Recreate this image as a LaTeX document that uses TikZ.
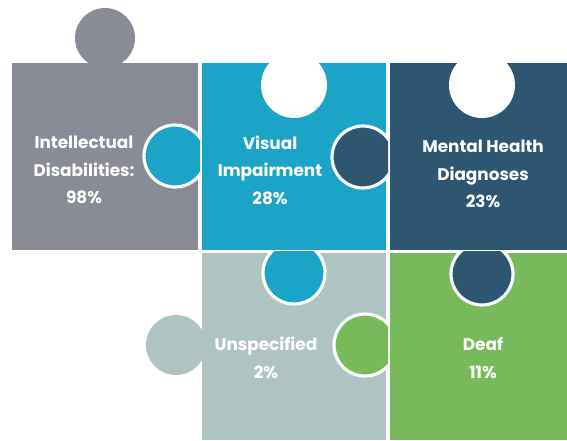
\documentclass[tikz,border=0pt]{standalone}
\usepackage{fontspec}
\setmainfont{Poppins}
\definecolor{pzgray}{RGB}{137,140,150}
\definecolor{pzblue}{RGB}{28,163,200}
\definecolor{pzdark}{RGB}{46,86,112}
\definecolor{pzlight}{RGB}{175,195,195}
\definecolor{pzgreen}{RGB}{120,185,92}
\tikzset{
  knob/.style={draw=white, line width=1.8pt},
  lbl/.style={text=white, align=center, font=\bfseries\fontsize{9.6}{15.6}\selectfont}
}

\begin{document}
\begin{tikzpicture}[x=0.02cm,y=-0.02cm]
  %%%%% START %%%%%
  \def\rk{31}
  \def\rh{33}
  \def\xa{200}
  \def\xb{388}
  \def\ymid{251.5}
  \useasboundingbox (0,0) rectangle (567,440);

  % squares
  \fill[pzgray] (12,63) rectangle (198,250);
  \fill[pzgray] (105,38) circle (30);
  \fill[pzblue] (202,63) rectangle (386,250);
  \fill[pzdark] (390,63) rectangle (567,250);
  \fill[pzlight] (202,253) rectangle (386,440);
  \fill[pzlight] (176,345) circle (30);
  \fill[pzgreen] (390,253) rectangle (567,440);

  % holes
  \fill[white] (294,85) circle (\rh);
  \fill[white] (482,85) circle (\rh);

  % knobs
  \begin{scope}
    \clip (0,0) rectangle (\xa,440);
    \draw[knob, fill=pzblue] (175,156) circle (\rk);
  \end{scope}
  \begin{scope}
    \clip (0,0) rectangle (\xb,\ymid);
    \draw[knob, fill=pzdark] (363,157) circle (\rk);
  \end{scope}
  \begin{scope}
    \clip (0,\ymid) rectangle (567,440);
    \draw[knob, fill=pzblue] (294,273) circle (\rk);
    \draw[knob, fill=pzdark] (482,274) circle (\rk);
  \end{scope}
  \begin{scope}
    \clip (\xa,\ymid) rectangle (\xb,440);
    \draw[knob, fill=pzgreen] (365,345) circle (\rk);
  \end{scope}

  % labels
  \node[lbl] (intel) at (84,170) {Intellectual\\Disabilities:\\98\%};
  \node[lbl] (visual) at (270,170) {Visual\\Impairment\\28\%};
  \node[lbl] (mental) at (483,174) {Mental Health\\Diagnoses\\23\%};
  \node[lbl] (unspec) at (266,358) {Unspecified\\2\%};
  \node[lbl] (deaf) at (483,358) {Deaf\\11\%};
  %%%%% END %%%%%
\end{tikzpicture}
\end{document}
